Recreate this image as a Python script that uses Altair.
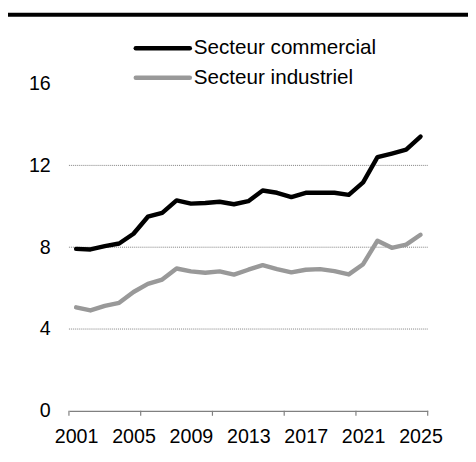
import altair as alt
import pandas as pd

years = list(range(2001, 2026))
series_names = ["Secteur commercial", "Secteur industriel"]
commercial = [7.92, 7.89, 8.05, 8.18, 8.66, 9.49, 9.68, 10.29, 10.13, 10.16, 10.22, 10.10,
              10.25, 10.77, 10.66, 10.45, 10.66, 10.66, 10.66, 10.56, 11.17, 12.40, 12.58,
              12.77, 13.41]
industrial = [5.06, 4.91, 5.13, 5.28, 5.81, 6.21, 6.42, 6.96, 6.82, 6.75, 6.82, 6.66,
              6.90, 7.12, 6.93, 6.77, 6.90, 6.93, 6.83, 6.67, 7.17, 8.32, 7.97, 8.13, 8.61]
x_label_values = [2001, 2005, 2009, 2013, 2017, 2021, 2025]
x_tick_bounds = [2000.5, 2005.5, 2010.5, 2015.5, 2020.5, 2025.5]
y_label_values = [0, 4, 8, 12, 16]
grid_values = [4, 8, 12]

colors = ["#000000", "#999999"]
FONT = "Liberation Sans"
W, H = 365, 333

rows = []
for name, vals in zip(series_names, [commercial, industrial]):
    for y, v in zip(years, vals):
        rows.append({"year": y, "value": v, "series": name})
df = pd.DataFrame(rows)

xscale = alt.Scale(domain=[2000.5, 2025.5], nice=False, zero=False)
yscale = alt.Scale(domain=[0, 16], nice=False)

grid = alt.Chart(pd.DataFrame({"g": grid_values})).mark_rule(
    color="#808080", strokeWidth=1, strokeDash=[1, 1]
).encode(y=alt.Y("g:Q", scale=yscale))

lines = alt.Chart(df).mark_line(strokeWidth=4.5, strokeCap="round", strokeJoin="round").encode(
    x=alt.X("year:Q", scale=xscale, title=None,
            axis=alt.Axis(values=x_label_values, format="d", ticks=False, grid=False,
                          domainColor="#808080", domainWidth=1.2, labelFont=FONT,
                          labelFontSize=20, labelColor="#000000", labelPadding=16,
                          labelFlush=False)),
    y=alt.Y("value:Q", scale=yscale, title=None,
            axis=alt.Axis(values=y_label_values, ticks=False, domain=False, grid=False,
                          labelFont=FONT, labelFontSize=20, labelColor="#000000",
                          labelPadding=19)),
    color=alt.Color("series:N", scale=alt.Scale(domain=series_names, range=colors), legend=None),
)

xticks = alt.Chart(pd.DataFrame({"t": x_tick_bounds})).mark_rule(
    color="#808080", strokeWidth=1.2
).encode(x=alt.X("t:Q", scale=xscale), y=alt.value(H), y2=alt.value(H + 5))

layers = [grid, lines, xticks]

# legend
for i, (name, col) in enumerate(zip(series_names, colors)):
    ly = -36 + 30 * i
    leg_df = pd.DataFrame({"label": [name]})
    layers.append(alt.Chart(leg_df).mark_rule(color=col, strokeWidth=4.5, strokeCap="round").encode(
        x=alt.value(68), x2=alt.value(123), y=alt.value(ly)))
    layers.append(alt.Chart(leg_df).mark_text(align="left", baseline="middle", font=FONT,
                                               fontSize=21, color="#000000").encode(
        x=alt.value(127), y=alt.value(ly), text="label:N"))

# top thick rule
layers.append(alt.Chart(pd.DataFrame({"a": [0]})).mark_rule(color="#000000", strokeWidth=4).encode(
    x=alt.value(-62), x2=alt.value(420), y=alt.value(-70)))

chart = alt.layer(*layers).properties(
    width=W, height=H,
    autosize=alt.AutoSizeParams(type="none"),
    padding={"left": 62, "top": 73, "right": 41, "bottom": 40},
).configure_view(stroke=None)

chart.save("out.html", embed_options={"renderer": "svg", "actions": False})
